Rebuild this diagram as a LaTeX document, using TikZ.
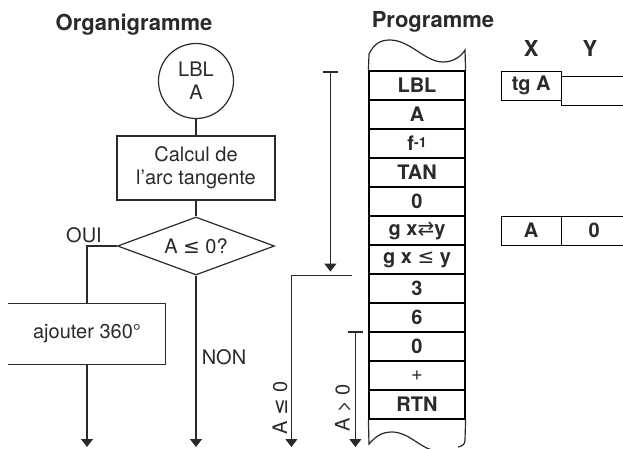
\documentclass[tikz,border=0pt]{standalone}
\usepackage{fontspec}
\setmainfont{TeX Gyre Heros}
\newfontfamily\symfont{DejaVu Sans}
\usetikzlibrary{shapes.geometric, arrows.meta, positioning, matrix, calc}
\definecolor{ink}{HTML}{2A2A2A}

\begin{document}
\begin{tikzpicture}[x=1pt, y=-1pt, line width=1.2pt, color=ink,
    font=\fontsize{20}{23}\selectfont,
    cell/.style={draw, minimum width=96pt, minimum height=29pt, inner sep=0pt, font=\fontsize{20}{23}\selectfont\bfseries},
    reg/.style={draw, minimum height=29pt, inner sep=0pt, font=\fontsize{20}{23}\selectfont\bfseries},
    box/.style={draw, align=center, inner sep=0pt},
    hd/.style={font=\fontsize{22}{26}\selectfont\bfseries},
    arr/.style={-{Triangle[width=12pt,length=8pt]}},
    bar/.style={{Bar[width=15pt]}-{Triangle[width=12pt,length=8pt]}}
]
    \useasboundingbox[fill=white] (0,0) rectangle (623,448);
    \coordinate (floor) at (0,447);

    % Organigramme
    \node[hd, anchor=base] (torg) at (134,30) {Organigramme};
    \node[circle, draw, minimum size=75pt, inner sep=0pt, align=center] (lbl) at (196,81) {LBL\\A};
    \node[box, minimum width=158pt, minimum height=64pt] (calc) at (196,168) {Calcul de\\l'arc tangente};
    \node[diamond, draw, aspect=2.7, minimum width=157pt, minimum height=58pt, inner sep=0pt] (test) at (196,246) {A {\symfont≤} 0?};
    \node[minimum width=156pt, minimum height=60pt, inner sep=0pt] (add) at (87,334) {ajouter 360°};
    \draw (add.north west) -- (add.north east) -- (add.south east) -- (add.south west);
    \node (oui) at (84,235) {OUI};
    \node (non) at (224,357) {NON};

    \draw (lbl) -- (calc);
    \draw (calc) -- (test);
    \draw (test.west) -| (add.north);
    \draw[arr] (add.south) -- (add.south |- floor);
    \draw[arr] (test.south) -- (test.south |- floor);

    % Programme
    \node[hd, anchor=base] (tprog) at (433,27) {Programme};
    \matrix (prog) [matrix of nodes, nodes={cell}, row sep=-\pgflinewidth, inner sep=0pt] at (417,245) {
        LBL \\
        A \\
        f\raisebox{3pt}{\fontsize{14}{14}\selectfont -1} \\
        TAN \\
        0 \\
        g x{\symfont\mdseries ⇄}y \\
        g x {\symfont\mdseries ≤} y \\
        3 \\
        6 \\
        0 \\
        {\mdseries +} \\
        RTN \\
    };
    \draw (prog-1-1.north west) -- (369,54) .. controls (374,44) and (380,40) .. (390,40)
        .. controls (410,40) and (425,62) .. (443,62) .. controls (455,62) and (462,55) .. (465,50)
        -- (prog-1-1.north east);
    \draw (prog-12-1.south west) -- (369,444) .. controls (376,436) and (382,432) .. (392,432)
        .. controls (408,432) and (418,446) .. (432,450);
    \draw (prog-12-1.south east) -- (465,440) .. controls (465,444) and (463,446) .. (458,447);

    \coordinate (b1) at ($(prog-1-1.north west)+(-38,1)$);
    \coordinate (e1) at ($(prog-7-1.south west)+(-38,-3)$);
    \coordinate (j1) at ($(prog-7-1.south west)+(-16,1)$);
    \coordinate (j2) at ($(prog-7-1.south west)+(-77,1)$);
    \coordinate (b2) at ($(prog-10-1.north west)+(-13,0)$);
    \draw[bar] (b1) -- (e1);
    \draw[arr] (j1) -- (j2) -- (j2 |- floor);
    \draw[bar] (b2) -- (b2 |- floor);
    \node[rotate=90] (le) at (280,408) {A {\symfont≤} 0};
    \node[rotate=90] (gt) at (343,408) {A > 0};

    % registres X et Y
    \matrix (xy1) [matrix of nodes, nodes={reg}, column sep=-\pgflinewidth, nodes in empty cells, inner sep=0pt,
        column 1/.style={nodes={minimum width=60pt}},
        column 2/.style={nodes={minimum width=66pt}}, anchor=north west] at (500,70) {
        tg A & \\
    };
    \matrix (xy2) [matrix of nodes, nodes={reg}, column sep=-\pgflinewidth, nodes in empty cells, inner sep=0pt,
        column 1/.style={nodes={minimum width=60pt}},
        column 2/.style={nodes={minimum width=66pt}}, anchor=north west] at (500,215) {
        A & 0 \\
    };
    \node[hd, above=10pt of xy1-1-1] (hx) {X};
    \node[hd, anchor=base] (hy) at (hx.base -| 590,0) {Y};
\end{tikzpicture}
\end{document}
